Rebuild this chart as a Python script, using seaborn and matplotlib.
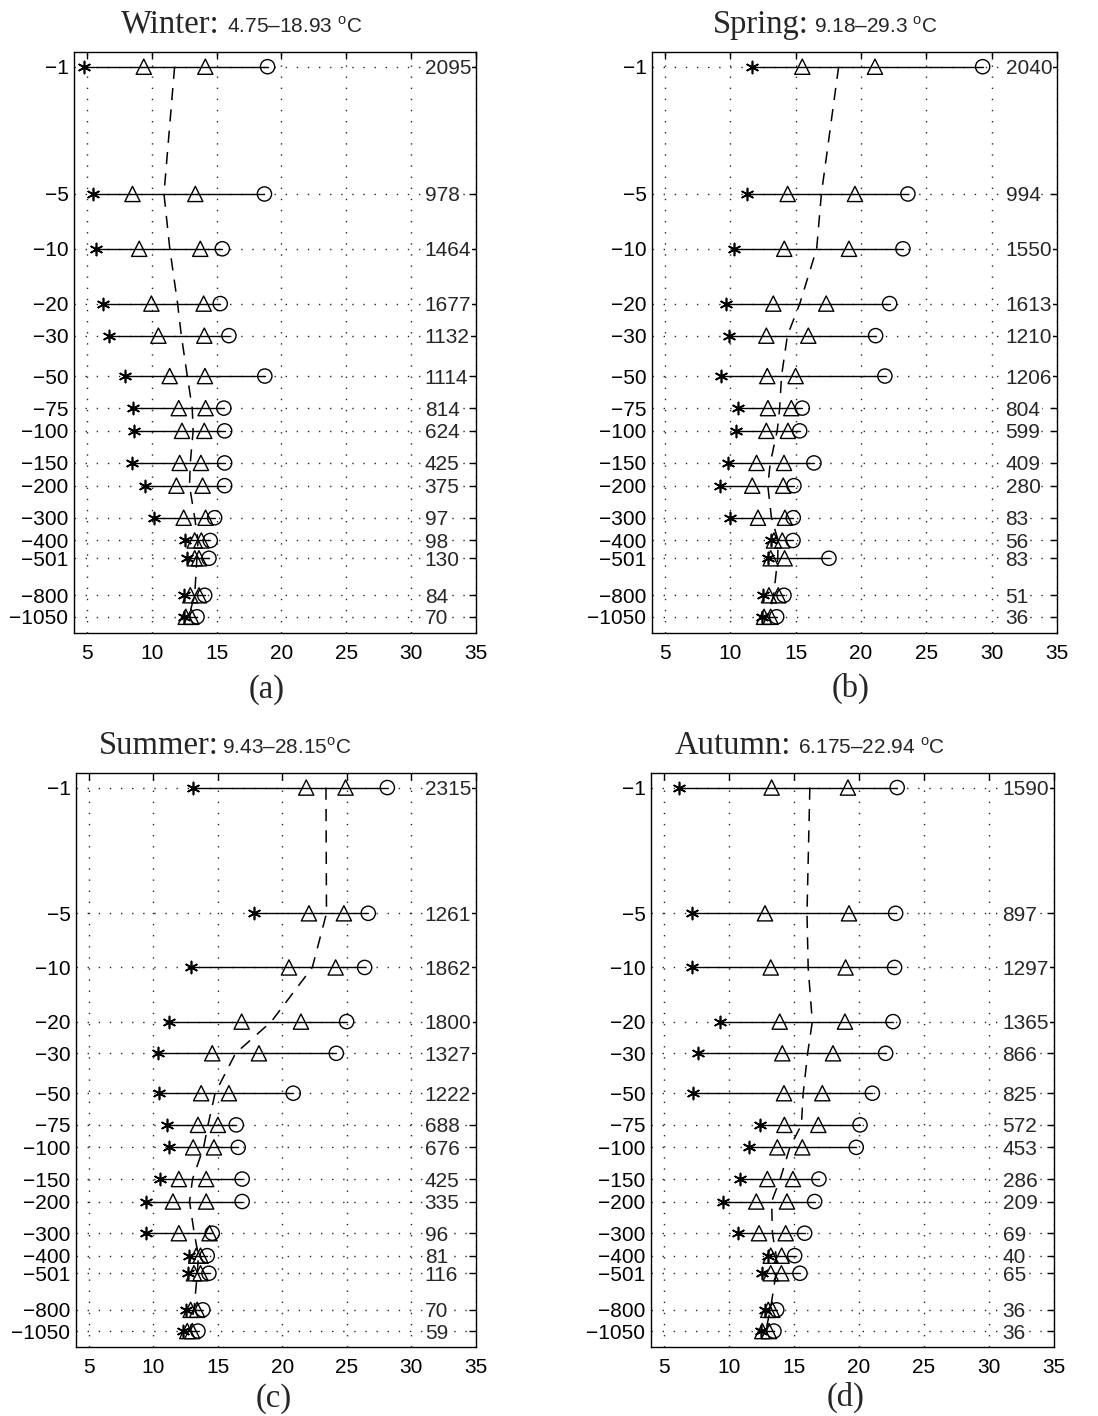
import numpy as np
import pandas as pd
import matplotlib
matplotlib.use("Agg")
import matplotlib.pyplot as plt
import seaborn as sns

# ---------------- data ----------------
depths = [1, 5, 10, 20, 30, 50, 75, 100, 150, 200, 300, 400, 501, 800, 1050]
depth_labels = ["−1", "−5", "−10", "−20", "−30", "−50", "−75", "−100", "−150",
                "−200", "−300", "−400", "−501", "−800", "−1050"]
xticks = [5, 10, 15, 20, 25, 30, 35]

seasons = ["Winter", "Spring", "Summer", "Autumn"]
ranges = ["4.75–18.93 $^{\\rm o}$C", "9.18–29.3 $^{\\rm o}$C",
          "9.43–28.15$^{\\rm o}$C", "6.175–22.94 $^{\\rm o}$C"]
panel_tags = ["(a)", "(b)", "(c)", "(d)"]

winter_min = [4.75, 5.49, 5.69, 6.25, 6.72, 7.97, 8.56, 8.62, 8.49, 9.51, 10.15, 12.54, 12.72, 12.46, 12.46]
winter_lo = [9.38, 8.51, 9.03, 9.97, 10.51, 11.38, 12.08, 12.33, 12.15, 11.90, 12.46, 13.31, 13.31, 12.97, 12.62]
winter_mean = [11.76, 10.94, 11.39, 11.99, 12.28, 12.74, 13.12, 13.19, 12.97, 12.91, 13.31, 13.57, 13.48, 13.31, 12.84]
winter_hi = [14.13, 13.36, 13.74, 14.00, 14.05, 14.10, 14.15, 14.05, 13.79, 13.92, 14.15, 13.82, 13.64, 13.64, 13.05]
winter_max = [18.93, 18.69, 15.44, 15.28, 15.95, 18.72, 15.56, 15.62, 15.62, 15.62, 14.85, 14.51, 14.41, 14.08, 13.49]
winter_n = [2095, 978, 1464, 1677, 1132, 1114, 814, 624, 425, 375, 97, 98, 130, 84, 70]

spring_min = [11.63, 11.29, 10.28, 9.64, 9.89, 9.26, 10.58, 10.40, 9.84, 9.18, 9.97, 13.13, 12.87, 12.52, 12.44]
spring_lo = [15.50, 14.38, 14.12, 13.28, 12.75, 12.82, 12.87, 12.75, 12.00, 11.67, 12.11, 13.33, 13.08, 12.95, 12.57]
spring_mean = [18.28, 16.96, 16.60, 15.31, 14.36, 13.91, 13.77, 13.58, 13.05, 12.86, 13.14, 13.65, 13.62, 13.31, 12.83]
spring_hi = [21.06, 19.53, 19.07, 17.33, 15.96, 14.99, 14.66, 14.40, 14.10, 14.04, 14.17, 13.97, 14.15, 13.66, 13.08]
spring_max = [29.30, 23.58, 23.20, 22.18, 21.11, 21.82, 15.50, 15.30, 16.39, 14.86, 14.81, 14.79, 17.54, 14.10, 13.54]
spring_n = [2040, 994, 1550, 1613, 1210, 1206, 804, 599, 409, 280, 83, 56, 83, 51, 36]

summer_min = [13.09, 17.80, 12.94, 11.20, 10.38, 10.43, 11.07, 11.20, 10.51, 9.45, 9.43, 12.76, 12.70, 12.50, 12.32]
summer_lo = [21.86, 22.07, 20.52, 16.85, 14.57, 13.71, 13.46, 13.09, 11.98, 11.52, 11.98, 13.33, 13.15, 12.89, 12.63]
summer_mean = [23.39, 23.43, 22.33, 19.15, 16.38, 14.79, 14.24, 13.90, 13.04, 12.81, 13.17, 13.50, 13.41, 13.15, 12.83]
summer_hi = [24.91, 24.78, 24.14, 21.45, 18.19, 15.86, 15.01, 14.70, 14.10, 14.10, 14.36, 13.66, 13.66, 13.40, 13.02]
summer_max = [28.15, 26.67, 26.39, 24.99, 24.19, 20.85, 16.43, 16.58, 16.89, 16.89, 14.57, 14.18, 14.31, 13.84, 13.46]
summer_n = [2315, 1261, 1862, 1800, 1327, 1222, 688, 676, 425, 335, 96, 81, 116, 70, 59]

autumn_min = [6.175, 7.13, 7.18, 9.28, 7.62, 7.23, 12.38, 11.56, 10.85, 9.56, 10.69, 13.02, 12.56, 12.77, 12.44]
autumn_lo = [13.28, 12.77, 13.21, 13.90, 14.10, 14.23, 14.26, 13.72, 12.95, 12.10, 12.31, 13.21, 13.21, 13.02, 12.56]
autumn_mean = [16.22, 16.00, 16.09, 16.41, 16.05, 15.71, 15.57, 14.68, 13.94, 13.28, 13.34, 13.63, 13.62, 13.18, 12.82]
autumn_hi = [19.15, 19.23, 18.97, 18.92, 18.00, 17.18, 16.87, 15.64, 14.92, 14.46, 14.36, 14.05, 14.03, 13.33, 13.08]
autumn_max = [22.94, 22.82, 22.74, 22.62, 22.05, 21.03, 20.08, 19.79, 16.92, 16.59, 15.82, 15.05, 15.46, 13.67, 13.46]
autumn_n = [1590, 897, 1297, 1365, 866, 825, 572, 453, 286, 209, 69, 40, 65, 36, 36]

season_data = [
    (winter_min, winter_lo, winter_mean, winter_hi, winter_max, winter_n),
    (spring_min, spring_lo, spring_mean, spring_hi, spring_max, spring_n),
    (summer_min, summer_lo, summer_mean, summer_hi, summer_max, summer_n),
    (autumn_min, autumn_lo, autumn_mean, autumn_hi, autumn_max, autumn_n),
]

# ---------------- style ----------------
sns.set_style("white")
plt.rcParams["font.family"] = ["Liberation Sans", "DejaVu Sans"]
plt.rcParams["mathtext.fontset"] = "custom"
plt.rcParams["mathtext.rm"] = "Liberation Sans"
plt.rcParams["axes.unicode_minus"] = True

SERIF = ["Liberation Serif", "DejaVu Serif"]
TICK_FS = 15

fig = plt.figure(figsize=(10.98, 14.16), dpi=100)
positions = [
    [0.0674, 0.553, 0.366, 0.4103],
    [0.5938, 0.553, 0.369, 0.4103],
    [0.0692, 0.0487, 0.364, 0.4054],
    [0.5929, 0.0487, 0.367, 0.4054],
]
title_x = [(0.363, 0.381), (0.386, 0.400), (0.356, 0.366), (0.347, 0.365)]
tag_xy = [(0.48, -0.098), (0.49, -0.095), (0.495, -0.089), (0.483, -0.088)]

for i, (season, rng, tag, vals) in enumerate(zip(seasons, ranges, panel_tags, season_data)):
    tmin, tlo, tmean, thi, tmax, cnt = vals
    ax = fig.add_axes(positions[i])

    # horizontal range segments min -> max
    seg = pd.DataFrame({
        "temp": list(tmin) + list(tmax),
        "depth": list(depths) * 2,
        "unit": list(range(len(depths))) * 2,
    })
    sns.lineplot(data=seg, x="temp", y="depth", units="unit", estimator=None,
                 color="black", lw=1.0, ax=ax, legend=False)

    # dashed mean profile
    prof = pd.DataFrame({"temp": tmean, "depth": depths})
    sns.lineplot(data=prof, x="temp", y="depth", sort=False, estimator=None,
                 color="black", lw=1.1, dashes=False, ax=ax, legend=False,
                 linestyle=(0, (8, 6)))

    # markers
    sns.scatterplot(x=tlo, y=depths, marker="^", s=120, facecolors="none",
                    edgecolors="black", linewidth=1.0, ax=ax, legend=False, zorder=3)
    sns.scatterplot(x=thi, y=depths, marker="^", s=120, facecolors="none",
                    edgecolors="black", linewidth=1.0, ax=ax, legend=False, zorder=3)
    sns.scatterplot(x=tmax, y=depths, marker="o", s=105, facecolors="none",
                    edgecolors="black", linewidth=1.0, ax=ax, legend=False, zorder=3)
    sns.scatterplot(x=tmin, y=depths, marker=(6, 2, 0), s=75, color="black",
                    edgecolors="black", linewidth=1.2, ax=ax, legend=False, zorder=4)

    # counts
    for d, n in zip(depths, cnt):
        ax.text(31.05, d, str(n), ha="left", va="center_baseline", fontsize=TICK_FS,
                zorder=5, bbox=dict(boxstyle="square,pad=0.05", fc="white", ec="none"))

    ax.set_yscale("log")
    ax.set_ylim(1288, 0.83)
    ax.set_xlim(4, 35)
    ax.set_yticks(depths)
    ax.set_yticklabels(depth_labels)
    ax.yaxis.set_minor_locator(matplotlib.ticker.NullLocator())
    ax.set_xticks(xticks)
    ax.set_xticklabels([str(v) for v in xticks])
    ax.set_xlabel("")
    ax.set_ylabel("")

    ax.grid(True, which="major", color="0.15", linestyle=(0, (1, 7)), lw=1.0)
    ax.set_axisbelow(True)
    ax.tick_params(axis="both", which="major", direction="in", length=5, width=1.0,
                   top=True, right=True, labelsize=TICK_FS, colors="black")
    ax.tick_params(axis="x", pad=8)
    ax.tick_params(axis="y", pad=4)
    for sp in ax.spines.values():
        sp.set_visible(True)
        sp.set_color("black")
        sp.set_linewidth(1.0)

    tx1, tx2 = title_x[i]
    ax.text(tx1, 1.033, season + ":", ha="right", va="baseline", family=SERIF,
            fontsize=23.5, transform=ax.transAxes)
    ax.text(tx2, 1.033, rng, ha="left", va="baseline", fontsize=TICK_FS,
            transform=ax.transAxes)
    ax.text(tag_xy[i][0], tag_xy[i][1], tag, ha="center", va="center", family=SERIF,
            fontsize=23.5, transform=ax.transAxes)

fig.savefig("out.png", dpi=100, facecolor="white")
